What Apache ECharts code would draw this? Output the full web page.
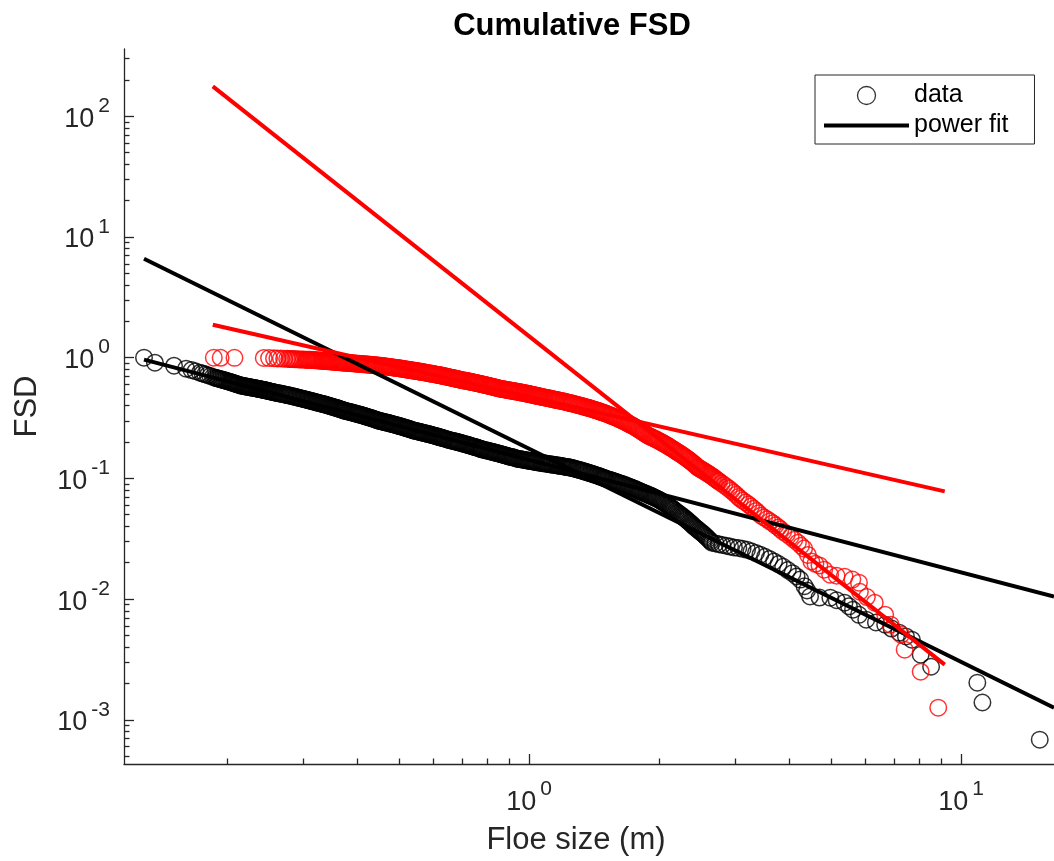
<!DOCTYPE html>
<html>
<head>
<meta charset="utf-8">
<script src="https://cdn.jsdelivr.net/npm/echarts@6/dist/echarts.min.js"></script>
<style>html,body{margin:0;padding:0;background:#fff}#c{width:1054px;height:861px}</style>
</head>
<body>
<div id="c"></div>
<script>
// ---------- axis limits and ticks ----------
const xLimits = [0.1155, 16.4];
const yLimits = [0.00043, 361];
const xTickValues = [1, 10];
const yTickValues = [0.001, 0.01, 0.1, 1, 10, 100];
const xMinorTicks = [0.2, 0.3, 0.4, 0.5, 0.6, 0.7, 0.8, 0.9, 2, 3, 4, 5, 6, 7, 8, 9];
const yMinorTicks = [0.0005, 0.0006, 0.0007, 0.0008, 0.0009,
  0.002, 0.003, 0.004, 0.005, 0.006, 0.007, 0.008, 0.009,
  0.02, 0.03, 0.04, 0.05, 0.06, 0.07, 0.08, 0.09,
  0.2, 0.3, 0.4, 0.5, 0.6, 0.7, 0.8, 0.9,
  2, 3, 4, 5, 6, 7, 8, 9,
  20, 30, 40, 50, 60, 70, 80, 90, 200, 300];

// ---------- labels ----------
const titleText = 'Cumulative FSD';
const xName = 'Floe size (m)';
const yName = 'FSD';
const legendNames = ['data', 'power fit'];

// ---------- black data set (floe size, cumulative FSD) ----------
const blackData = [
[0.1285,1.0],[0.1362,0.909],[0.1508,0.858],[0.1608,0.811],[0.1655,0.790],[0.169,0.772],[0.1731,0.751],
[0.1755,0.740],[0.178,0.728],[0.1805,0.716],[0.183,0.705],[0.1855,0.693],[0.1875,0.683],
[0.18875,0.6785],[0.19,0.674],[0.19125,0.670],[0.1925,0.666],[0.19375,0.6615],[0.195,0.657],[0.19625,0.653],[0.1975,0.649],[0.19875,0.6445],[0.2,0.640],
[0.20125,0.636],[0.2025,0.632],[0.20375,0.6275],[0.205,0.623],[0.20625,0.619],[0.2075,0.615],[0.20875,0.6105],[0.21,0.606],[0.21125,0.602],[0.2125,0.598],[0.214,0.5925],[0.2156,0.587],
[0.2168,0.585],[0.218,0.583],[0.21925,0.581],[0.2205,0.579],[0.22175,0.5765],[0.223,0.574],[0.22425,0.572],[0.2255,0.570],[0.22675,0.568],[0.228,0.566],[0.22925,0.564],[0.2305,0.562],
[0.23175,0.560],[0.233,0.558],[0.23425,0.5555],[0.2355,0.553],[0.23675,0.551],[0.238,0.549],[0.23925,0.547],[0.2405,0.545],[0.24175,0.543],[0.243,0.541],[0.24425,0.5385],[0.2455,0.536],
[0.24675,0.534],[0.248,0.532],[0.24925,0.530],[0.2505,0.528],[0.252,0.5255],[0.2535,0.523],[0.255,0.5205],[0.2565,0.518],[0.25795,0.5155],[0.2594,0.513],
[0.26145,0.510],[0.2635,0.507],[0.2655,0.5045],[0.2675,0.502],[0.2695,0.499],[0.2715,0.496],[0.2735,0.493],[0.2755,0.490],[0.2775,0.4875],[0.2795,0.485],[0.2815,0.482],[0.2835,0.479],
[0.2855,0.4765],[0.2875,0.474],[0.2895,0.471],[0.2915,0.468],[0.2935,0.465],[0.2955,0.462],[0.2975,0.4595],[0.2995,0.457],[0.3015,0.454],[0.3035,0.451],[0.3055,0.4485],[0.3075,0.446],[0.30945,0.443],[0.3114,0.440],
[0.31345,0.4375],[0.3155,0.435],[0.3175,0.4325],[0.3195,0.430],[0.3215,0.4275],[0.3235,0.425],[0.3255,0.4225],[0.3275,0.420],[0.3295,0.418],[0.3315,0.416],[0.3335,0.4135],[0.3355,0.411],
[0.3375,0.4085],[0.3395,0.406],[0.3415,0.4035],[0.3435,0.401],[0.3455,0.3985],[0.3475,0.396],[0.3495,0.3935],[0.3515,0.391],[0.3535,0.389],[0.3555,0.387],[0.3575,0.3845],[0.3595,0.382],
[0.3615,0.3795],[0.3635,0.377],[0.3655,0.3745],[0.3675,0.372],[0.3695,0.3695],[0.3715,0.367],[0.3733,0.365],[0.3751,0.363],
[0.37755,0.361],[0.38,0.359],[0.3825,0.357],[0.385,0.355],[0.3875,0.353],[0.39,0.351],[0.3925,0.3485],[0.395,0.346],[0.3975,0.344],[0.40,0.342],[0.4025,0.340],[0.405,0.338],[0.4075,0.336],[0.41,0.334],
[0.4125,0.332],[0.415,0.330],[0.4175,0.3275],[0.42,0.325],[0.4225,0.323],[0.425,0.321],[0.4275,0.319],[0.43,0.317],[0.4325,0.315],[0.435,0.313],[0.4375,0.3105],[0.44,0.308],[0.4425,0.306],[0.445,0.304],[0.4475,0.302],[0.45,0.300],
[0.453,0.2985],[0.456,0.297],[0.459,0.295],[0.462,0.293],[0.465,0.2915],[0.468,0.290],[0.471,0.2885],[0.474,0.287],[0.477,0.285],[0.48,0.283],[0.483,0.2815],[0.486,0.280],[0.489,0.2785],[0.492,0.277],
[0.495,0.275],[0.498,0.273],[0.501,0.2715],[0.504,0.270],[0.507,0.2685],[0.51,0.267],[0.513,0.265],[0.516,0.263],[0.519,0.2615],[0.522,0.260],[0.525,0.2585],[0.528,0.257],[0.531,0.255],[0.534,0.253],[0.5379,0.251],[0.5417,0.249],
[0.54535,0.2475],[0.549,0.246],[0.5525,0.245],[0.556,0.244],[0.5595,0.2425],[0.563,0.241],[0.5665,0.2395],[0.570,0.238],[0.5735,0.237],[0.577,0.236],[0.5805,0.2345],[0.584,0.233],[0.5875,0.232],[0.591,0.231],
[0.5945,0.2295],[0.598,0.228],[0.6015,0.227],[0.605,0.226],[0.6085,0.2245],[0.612,0.223],[0.6155,0.2215],[0.619,0.220],[0.6225,0.219],[0.626,0.218],[0.6295,0.2165],[0.633,0.215],[0.6365,0.214],[0.640,0.213],[0.64485,0.211],[0.6497,0.209],
[0.65435,0.2075],[0.659,0.206],[0.6635,0.205],[0.668,0.204],[0.6725,0.203],[0.677,0.202],[0.6815,0.2005],[0.686,0.199],[0.6905,0.198],[0.695,0.197],[0.6995,0.1955],[0.704,0.194],[0.7085,0.193],[0.713,0.192],
[0.7175,0.1905],[0.722,0.189],[0.7265,0.188],[0.731,0.187],[0.7355,0.1855],[0.740,0.184],[0.7445,0.183],[0.749,0.182],[0.7535,0.181],[0.758,0.180],[0.7625,0.1785],[0.767,0.177],[0.771,0.176],[0.775,0.175],[0.77875,0.174],[0.7825,0.173],
[0.78825,0.172],[0.794,0.171],[0.7995,0.170],[0.805,0.169],[0.8105,0.168],[0.816,0.167],[0.8215,0.166],[0.827,0.165],[0.8325,0.164],[0.838,0.163],[0.8435,0.162],[0.849,0.161],[0.8545,0.160],[0.86,0.159],
[0.8655,0.158],[0.871,0.157],[0.8765,0.156],[0.882,0.155],[0.8875,0.154],[0.893,0.153],[0.8985,0.152],[0.904,0.151],[0.9095,0.1505],[0.915,0.150],[0.9205,0.149],[0.926,0.148],[0.93205,0.1468],[0.9381,0.1455],
[0.94455,0.145],[0.951,0.1444],[0.9575,0.1438],[0.964,0.1432],[0.9705,0.1427],[0.977,0.1421],[0.9835,0.1415],[0.990,0.1409],[0.9965,0.1404],[1.003,0.1398],[1.0095,0.1392],[1.016,0.1386],[1.0225,0.1381],[1.029,0.1375],[1.0355,0.1369],[1.042,0.1363],[1.051,0.1355],[1.06,0.1347],
[1.068,0.1342],[1.076,0.1337],[1.084,0.1332],[1.092,0.1327],[1.1,0.1322],[1.108,0.1317],[1.116,0.1312],[1.124,0.1306],[1.132,0.1301],[1.14,0.1296],[1.148,0.1291],[1.156,0.1286],[1.164,0.1281],[1.172,0.1276],
[1.18,0.1271],[1.188,0.1265],[1.196,0.126],[1.204,0.1255],[1.212,0.125],[1.22,0.1245],[1.228,0.124],[1.236,0.1235],[1.2435,0.123],[1.251,0.1225],
[1.261,0.1216],[1.271,0.1207],[1.281,0.1198],[1.291,0.1189],[1.301,0.118],[1.311,0.1171],[1.321,0.1162],[1.331,0.1153],[1.341,0.1144],[1.351,0.1134],[1.361,0.1125],[1.371,0.1116],[1.381,0.1107],[1.391,0.1098],
[1.401,0.1089],[1.411,0.1080],[1.421,0.1071],[1.431,0.1062],[1.441,0.1053],[1.451,0.1044],[1.461,0.1035],[1.471,0.1026],[1.4805,0.1017],[1.49,0.1008],[1.4985,0.1],[1.507,0.0993],
[1.519,0.0985],[1.531,0.0976],[1.543,0.0968],[1.555,0.0959],[1.567,0.0951],[1.579,0.0942],[1.591,0.0934],[1.603,0.0925],[1.615,0.0917],[1.627,0.0908],[1.639,0.09],[1.651,0.0892],[1.663,0.0883],[1.675,0.0875],
[1.687,0.0866],[1.699,0.0858],[1.711,0.0849],[1.723,0.0841],[1.735,0.0832],[1.747,0.0824],[1.759,0.0815],[1.771,0.0807],[1.783,0.0798],[1.795,0.0790],[1.8055,0.0782],[1.816,0.0775],
[1.829,0.0767],[1.842,0.0759],[1.855,0.0751],[1.868,0.0744],[1.881,0.0736],[1.894,0.0728],[1.907,0.072],[1.92,0.0713],[1.933,0.0705],[1.946,0.0697],[1.959,0.0689],[1.972,0.0682],[1.986,0.0673],[2.0,0.0665],
[2.014,0.0655],[2.028,0.0645],[2.042,0.0635],[2.056,0.0625],[2.07,0.0615],[2.084,0.0606],[2.098,0.0596],[2.112,0.0586],[2.126,0.0576],[2.14,0.0566],[2.154,0.0556],[2.168,0.0546],[2.185,0.0534],[2.202,0.0522],
[2.217,0.0513],[2.232,0.0504],[2.247,0.0495],[2.262,0.0486],[2.277,0.0477],[2.292,0.0468],[2.307,0.0459],[2.322,0.0450],[2.337,0.0441],[2.352,0.0433],[2.367,0.0424],[2.382,0.0415],[2.396,0.0406],[2.41,0.0398],
[2.427,0.039],[2.444,0.0383],[2.461,0.0375],[2.478,0.0368],[2.495,0.036],[2.512,0.0353],[2.529,0.0346],[2.546,0.0339],[2.563,0.0331],[2.58,0.0324],[2.597,0.0316],[2.614,0.0309],[2.632,0.0301],[2.65,0.0293],
[2.70,0.0289],[2.75,0.0285],[2.80,0.0281],[2.86,0.0277],[2.918,0.0272],
[2.98,0.0268],[3.05,0.0265],[3.12,0.0261],[3.195,0.0256],
[3.27,0.0249],[3.35,0.0241],[3.43,0.0233],[3.516,0.0224],
[3.60,0.0215],[3.69,0.0205],[3.78,0.0195],[3.873,0.0185],
[3.97,0.0174],[4.07,0.0164],[4.16,0.0154],[4.243,0.0145],
[4.34,0.0128],[4.40,0.0118],[4.47,0.0105],[4.70,0.0103],[4.98,0.01027],[5.15,0.0098],[5.37,0.00933],[5.50,0.0087],[5.62,0.00817],[5.80,0.0074],[6.03,0.00675],[6.35,0.0064],[6.67,0.00614],[6.90,0.0057],[7.19,0.00527],[7.45,0.0049],[7.69,0.00461],[8.06,0.00346],[8.52,0.00275],[10.9,0.00203],[11.2,0.00139],[15.2,0.000684]
];

// ---------- red data set (floe size, cumulative FSD) ----------
const redData = [
[0.1864,1.0],[0.1933,0.998],[0.2081,0.997],[0.2432,0.995],[0.2502,0.992],[0.2569,0.988],[0.2616,0.986],[0.2665,0.983],[0.2711,0.980],[0.2755,0.978],[0.2785,0.976],[0.2808,0.9745],[0.2831,0.973],[0.2855,0.972],[0.288,0.971],
[0.2907,0.9695],[0.2934,0.968],[0.296,0.9665],[0.2986,0.965],[0.3013,0.964],[0.304,0.963],[0.3058,0.962],[0.3075,0.961],[0.3094,0.960],[0.3112,0.959],
[0.3132,0.9575],[0.3152,0.956],[0.3172,0.9545],[0.3192,0.953],[0.3212,0.9515],[0.3232,0.950],[0.3252,0.9485],[0.3272,0.947],[0.3292,0.945],[0.3312,0.943],[0.3332,0.9415],[0.3352,0.940],
[0.3372,0.9385],[0.3392,0.937],[0.3412,0.9355],[0.3432,0.934],[0.3452,0.9325],[0.3472,0.931],[0.3492,0.9295],[0.3512,0.928],[0.3532,0.9265],[0.3552,0.925],[0.3572,0.9235],[0.3592,0.922],
[0.3612,0.920],[0.3632,0.918],[0.3652,0.9165],[0.3672,0.915],[0.3692,0.9135],[0.3712,0.912],[0.37315,0.9105],[0.3751,0.909],
[0.37755,0.9075],[0.38,0.906],[0.3825,0.904],[0.385,0.902],[0.3875,0.9005],[0.39,0.899],[0.3925,0.8975],[0.395,0.896],[0.3975,0.894],[0.40,0.892],[0.4025,0.8905],[0.405,0.889],[0.4075,0.8875],[0.41,0.886],
[0.4125,0.884],[0.415,0.882],[0.4175,0.8805],[0.42,0.879],[0.4225,0.8775],[0.425,0.876],[0.4275,0.874],[0.43,0.872],[0.4325,0.8705],[0.435,0.869],[0.4375,0.8675],[0.44,0.866],[0.4425,0.864],[0.445,0.862],[0.4484,0.860],[0.4518,0.858],
[0.4549,0.8555],[0.458,0.853],[0.461,0.8505],[0.464,0.848],[0.467,0.845],[0.470,0.842],[0.473,0.8395],[0.476,0.837],[0.479,0.8345],[0.482,0.832],[0.485,0.8295],[0.488,0.827],[0.491,0.8245],[0.494,0.822],
[0.497,0.8195],[0.500,0.817],[0.503,0.8145],[0.506,0.812],[0.509,0.809],[0.512,0.806],[0.515,0.8035],[0.518,0.801],[0.521,0.7985],[0.524,0.796],[0.527,0.7935],[0.530,0.791],[0.533,0.7885],[0.536,0.786],
[0.539,0.7835],[0.542,0.781],[0.545,0.7785],[0.548,0.776],[0.551,0.7735],[0.554,0.771],[0.5568,0.7685],[0.5596,0.766],
[0.5633,0.763],[0.567,0.760],[0.57075,0.757],[0.5745,0.754],[0.57825,0.751],[0.582,0.748],[0.58575,0.7445],[0.5895,0.741],[0.59325,0.738],[0.597,0.735],[0.60075,0.732],[0.6045,0.729],[0.60825,0.726],[0.612,0.723],
[0.61575,0.720],[0.6195,0.717],[0.62325,0.714],[0.627,0.711],[0.63075,0.7075],[0.6345,0.704],[0.63825,0.701],[0.642,0.698],[0.64575,0.695],[0.6495,0.692],[0.65325,0.689],[0.657,0.686],[0.66075,0.683],[0.6645,0.680],
[0.66825,0.677],[0.672,0.674],[0.67575,0.6705],[0.6795,0.667],[0.68275,0.6645],[0.686,0.662],[0.6891,0.6595],[0.6922,0.657],
[0.6966,0.654],[0.701,0.651],[0.7055,0.6485],[0.710,0.646],[0.7145,0.643],[0.719,0.640],[0.7235,0.637],[0.728,0.634],[0.7325,0.6315],[0.737,0.629],[0.7415,0.626],[0.746,0.623],[0.7505,0.620],[0.755,0.617],
[0.7595,0.6145],[0.764,0.612],[0.7685,0.609],[0.773,0.606],[0.7775,0.603],[0.782,0.600],[0.7865,0.5975],[0.791,0.595],[0.7955,0.592],[0.800,0.589],[0.8045,0.586],[0.809,0.583],[0.8135,0.5805],[0.818,0.578],
[0.8225,0.575],[0.827,0.572],[0.8315,0.569],[0.836,0.566],[0.8405,0.5635],[0.845,0.561],[0.8509,0.557],[0.8568,0.553],
[0.8624,0.551],[0.868,0.549],[0.8735,0.547],[0.879,0.545],[0.8845,0.5425],[0.890,0.540],[0.8955,0.538],[0.901,0.536],[0.9065,0.534],[0.912,0.532],[0.9175,0.530],[0.923,0.528],[0.9285,0.526],[0.934,0.524],
[0.9395,0.522],[0.945,0.520],[0.9505,0.518],[0.956,0.516],[0.9615,0.514],[0.967,0.512],[0.9725,0.510],[0.978,0.508],[0.9835,0.506],[0.989,0.504],[0.9945,0.502],[1.0,0.500],
[1.0055,0.4975],[1.011,0.495],[1.0165,0.493],[1.022,0.491],[1.0275,0.489],[1.033,0.487],[1.0385,0.485],[1.044,0.483],[1.0495,0.481],[1.055,0.479],[1.0605,0.477],[1.066,0.475],
[1.073,0.473],[1.080,0.471],[1.087,0.4685],[1.094,0.466],[1.101,0.464],[1.108,0.462],[1.115,0.460],[1.122,0.458],[1.129,0.4555],[1.136,0.453],[1.143,0.451],[1.150,0.449],[1.157,0.447],[1.164,0.445],[1.172,0.4425],[1.180,0.440],
[1.189,0.4375],[1.198,0.435],[1.207,0.4325],[1.216,0.430],[1.225,0.427],[1.234,0.424],[1.243,0.4215],[1.252,0.419],[1.261,0.4165],[1.270,0.414],[1.279,0.411],[1.288,0.408],[1.297,0.4055],[1.306,0.403],
[1.315,0.4005],[1.324,0.398],[1.333,0.395],[1.342,0.392],[1.351,0.3895],[1.360,0.387],[1.369,0.3845],[1.378,0.382],[1.387,0.3795],[1.396,0.377],[1.405,0.374],[1.414,0.371],[1.423,0.3685],[1.432,0.366],
[1.441,0.3635],[1.450,0.361],[1.459,0.358],[1.468,0.355],[1.477,0.3525],[1.486,0.350],[1.4965,0.347],[1.507,0.344],
[1.518,0.3405],[1.529,0.337],[1.540,0.3335],[1.551,0.330],[1.562,0.327],[1.573,0.324],[1.584,0.3205],[1.595,0.317],[1.606,0.3135],[1.617,0.310],[1.628,0.3065],[1.639,0.303],[1.650,0.2995],[1.661,0.296],
[1.672,0.2925],[1.683,0.289],[1.694,0.2855],[1.705,0.282],[1.716,0.279],[1.727,0.276],[1.738,0.2725],[1.749,0.269],[1.760,0.2655],[1.771,0.262],[1.782,0.2585],[1.793,0.255],[1.804,0.2515],[1.815,0.248],
[1.826,0.2445],[1.837,0.241],[1.848,0.2375],[1.859,0.234],[1.8725,0.230],[1.886,0.226],
[1.899,0.2235],[1.912,0.221],[1.925,0.2185],[1.938,0.216],[1.951,0.2135],[1.964,0.211],[1.977,0.2085],[1.990,0.206],[2.003,0.2035],[2.016,0.201],[2.029,0.1985],[2.042,0.196],[2.055,0.1935],[2.068,0.191],
[2.081,0.1885],[2.094,0.186],[2.107,0.1835],[2.120,0.181],[2.133,0.1785],[2.146,0.176],[2.159,0.1735],[2.172,0.171],[2.1865,0.1685],[2.201,0.166],
[2.216,0.1635],[2.231,0.161],[2.246,0.1585],[2.261,0.156],[2.276,0.1535],[2.291,0.151],[2.306,0.1485],[2.321,0.146],[2.336,0.1435],[2.351,0.141],[2.366,0.1385],[2.381,0.136],[2.396,0.1335],[2.411,0.131],
[2.426,0.1285],[2.441,0.126],[2.4515,0.1243],[2.462,0.1227],
[2.4785,0.121],[2.495,0.1194],[2.5115,0.1178],[2.528,0.1162],[2.5445,0.1145],[2.561,0.1129],[2.5775,0.1113],[2.594,0.1097],[2.6105,0.108],[2.627,0.1064],[2.6435,0.1048],[2.660,0.1032],[2.6765,0.1015],[2.693,0.0999],
[2.7095,0.0983],[2.726,0.0967],[2.74,0.0953],[2.754,0.0939],
[2.791,0.0909],[2.828,0.0880],[2.865,0.0850],[2.902,0.0821],[2.939,0.0791],[2.976,0.0761],[3.013,0.0732],[3.050,0.0702],[3.079,0.0679],
[3.125,0.0655],[3.171,0.0632],[3.217,0.0608],[3.263,0.0584],[3.309,0.0560],[3.355,0.0537],[3.401,0.0513],[3.444,0.0491],
[3.499,0.0474],[3.554,0.0458],[3.609,0.0441],[3.664,0.0425],[3.719,0.0408],[3.774,0.0392],[3.82,0.0378],[3.873,0.0362],
[3.95,0.0345],[4.03,0.0327],[4.11,0.0310],[4.19,0.0293],[4.26,0.0277],[4.331,0.0262],
[4.42,0.0232],[4.50,0.0205],[4.60,0.0196],[4.70,0.0190],[4.82,0.0175],[4.975,0.0159],[5.15,0.0156],[5.374,0.01534],[5.6,0.0145],[5.8,0.01368],[5.83,0.0115],[6.05,0.0104],[6.31,0.00933],[6.67,0.00742],[6.87,0.00614],[7.26,0.00507],[7.40,0.00381],[8.06,0.0025],[8.85,0.00126]
];

// ---------- power fits (end points of each fitted line) ----------
const blackFitSteep   = [[0.1285, 6.61], [16.4, 0.00126]];
const blackFitShallow = [[0.1285, 0.963], [16.4, 0.0105]];
const redFitSteep     = [[0.1854, 177], [9.16, 0.00286]];
const redFitShallow   = [[0.1854, 1.876], [9.16, 0.078]];

// ---------- chart ----------
const FONT = 'Liberation Sans, Arial, Helvetica, sans-serif';
const AXIS_COLOR = '#262626';
const supLabel = function (v) {
  const e = Math.round(Math.log10(v));
  return '{b|10}{s|' + e + '}';
};
const richLabel = {
  b: { fontSize: 27, lineHeight: 27, padding: [6, 0, 0, 0], color: AXIS_COLOR, fontFamily: FONT },
  s: { fontSize: 21, lineHeight: 21, padding: [0, 0, 20, 4], color: AXIS_COLOR, fontFamily: FONT }
};

const chart = echarts.init(document.getElementById('c'), null, { renderer: 'canvas' });
const hollow = function (c) { return { color: 'rgba(0,0,0,0)', borderColor: c, borderWidth: 1.5 }; };

chart.setOption({
  animation: false,
  backgroundColor: '#fff',
  title: {
    text: titleText,
    left: 572, top: 11, padding: 0,
    textAlign: 'center',
    textStyle: { fontSize: 31, fontWeight: 'bold', color: '#000', fontFamily: FONT, lineHeight: 31 }
  },
  grid: { left: 124, right: 0, top: 49, bottom: 97, containLabel: false, outerBoundsMode: 'none' },
  legend: {
    data: [
      { name: legendNames[0], icon: 'circle', itemStyle: { color: 'rgba(0,0,0,0)', borderColor: '#000', borderWidth: 1.3 } },
      { name: legendNames[1], icon: 'path://M0 0H85V4H0Z', itemStyle: { color: '#000', borderWidth: 0 } }
    ],
    orient: 'vertical',
    left: 815, top: 75,
    padding: [8, 26, 6, 9],
    itemWidth: 85, itemHeight: 18, itemGap: 5,
    backgroundColor: '#fff', borderColor: AXIS_COLOR, borderWidth: 1,
    selectedMode: false,
    textStyle: { fontSize: 25, lineHeight: 25, color: '#000', fontFamily: FONT }
  },
  xAxis: [
    {
      type: 'log', logBase: 10, min: xLimits[0], max: xLimits[1],
      name: xName, nameLocation: 'middle', nameGap: 60,
      nameTextStyle: { fontSize: 31, lineHeight: 31, color: AXIS_COLOR, fontFamily: FONT, padding: [0, 26, 0, 0] },
      axisLine: { show: true, lineStyle: { color: AXIS_COLOR, width: 1.3 } },
      axisTick: { show: true, inside: true, length: 10, lineStyle: { color: AXIS_COLOR, width: 1.3 }, customValues: xTickValues },
      axisLabel: { show: true, margin: 22, formatter: supLabel, rich: richLabel, customValues: xTickValues },
      splitLine: { show: false }, minorTick: { show: false }
    },
    {
      type: 'log', logBase: 10, min: xLimits[0], max: xLimits[1], position: 'bottom',
      axisLine: { show: false },
      axisTick: { show: true, inside: true, length: 5.5, lineStyle: { color: AXIS_COLOR, width: 1.3 }, customValues: xMinorTicks },
      axisLabel: { show: false }, splitLine: { show: false }
    }
  ],
  yAxis: [
    {
      type: 'log', logBase: 10, min: yLimits[0], max: yLimits[1],
      name: yName, nameLocation: 'middle', nameGap: 81,
      nameTextStyle: { fontSize: 31, lineHeight: 31, color: AXIS_COLOR, fontFamily: FONT },
      axisLine: { show: true, lineStyle: { color: AXIS_COLOR, width: 1.3 } },
      axisTick: { show: true, inside: true, length: 10, lineStyle: { color: AXIS_COLOR, width: 1.3 }, customValues: yTickValues },
      axisLabel: { show: true, margin: 14, formatter: supLabel, rich: richLabel, customValues: yTickValues },
      splitLine: { show: false }, minorTick: { show: false }
    },
    {
      type: 'log', logBase: 10, min: yLimits[0], max: yLimits[1], position: 'left',
      axisLine: { show: false },
      axisTick: { show: true, inside: true, length: 5.5, lineStyle: { color: AXIS_COLOR, width: 1.3 }, customValues: yMinorTicks },
      axisLabel: { show: false }, splitLine: { show: false }
    }
  ],
  series: [
    { name: 'data', type: 'scatter', symbol: 'circle', symbolSize: 16.5, data: blackData, itemStyle: hollow('#000'), z: 2 },
    { name: 'data (red)', type: 'scatter', symbol: 'circle', symbolSize: 16.5, data: redData, itemStyle: hollow('#ff0000'), z: 3 },
    { name: 'power fit', type: 'line', data: blackFitSteep, showSymbol: false, symbol: 'none', color: '#000', lineStyle: { color: '#000', width: 4 }, z: 4 },
    { name: 'power fit', type: 'line', data: blackFitShallow, showSymbol: false, symbol: 'none', color: '#000', lineStyle: { color: '#000', width: 4 }, z: 4 },
    { name: 'power fit (red)', type: 'line', data: redFitSteep, showSymbol: false, symbol: 'none', color: '#ff0000', lineStyle: { color: '#ff0000', width: 4 }, z: 5 },
    { name: 'power fit (red 2)', type: 'line', data: redFitShallow, showSymbol: false, symbol: 'none', color: '#ff0000', lineStyle: { color: '#ff0000', width: 4 }, z: 5 }
  ]
});
</script>
</body>
</html>
